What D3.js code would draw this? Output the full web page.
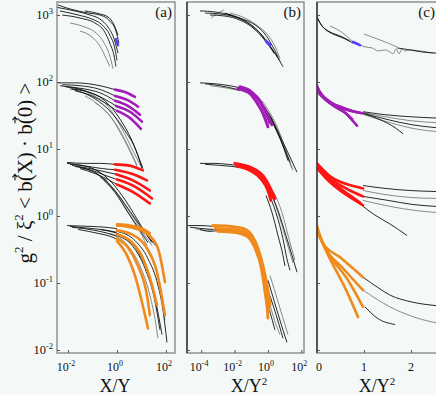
<!DOCTYPE html>
<html>
<head>
<meta charset="utf-8">
<script src="https://cdn.jsdelivr.net/npm/d3@7"></script>
<style>
  html, body { margin: 0; padding: 0; background: #f4f9f7; }
  svg { display: block; }
  text { font-family: "Liberation Serif", "Times New Roman", serif; fill: #111; }
</style>
</head>
<body>
<svg width="436" height="395"></svg>
<script>
// ---- tick values / labels ----
const yTickVals = [0.01, 0.1, 1, 10, 100, 1000];
const yTickExps = ["-2", "-1", "0", "1", "2", "3"];
const aTickVals = [0.01, 1, 100];
const aTickExps = ["-2", "0", "2"];
const bTickVals = [1e-4, 1e-2, 1, 100];
const bTickExps = ["-4", "-2", "0", "2"];
const cTickVals = [0, 1, 2];
const cTickLabels = ["0", "1", "2"];

// ---- panel (a): x = X/Y ----
const a1Black = [
  [[0.0035,1300],[0.019,1150],[0.079,1000],[0.2,870],[0.43,660],[0.76,440],[1.1,270]],
  [[0.0047,1150],[0.026,1000],[0.095,870],[0.25,710],[0.51,500],[0.83,310],[1.0,210]],
  [[0.0058,1000],[0.031,900],[0.126,760],[0.3,575],[0.51,380],[0.76,245],[0.91,170]],
  [[0.0039,1410],[0.012,1230],[0.066,1070],[0.2,1000],[0.51,810],[0.91,575],[1.2,380]],
  [[0.049,1150],[0.2,1035],[0.43,935],[0.76,710],[1.1,500]]
];
const a1Gray = [
  [[0.012,760],[0.049,660],[0.14,540],[0.3,380],[0.51,245],[0.69,158]],
  [[0.031,575],[0.095,470],[0.2,345],[0.36,225],[0.51,170]]
];
const a1Blue = [[[0.91,436],[1.1,355]]];

const a2Black = [
  [[0.0039,97],[0.019,97],[0.126,91],[0.83,77]],
  [[0.0058,91],[0.031,88],[0.17,79],[0.83,62]],
  [[0.0083,85],[0.045,79],[0.2,69],[0.83,52.5]],
  [[0.012,79],[0.066,71],[0.25,58],[0.91,44]],
  [[0.019,74],[0.095,62],[0.32,49],[1.0,37]],
  [[0.0047,88],[0.049,74],[0.32,52.5],[1.32,28],[4.1,13.3],[8.7,6.7],[11.5,5.1]],
  [[0.0145,79],[0.126,56],[0.51,37],[2.1,18.8],[6.0,9.5],[10.5,5.1]]
];
const a2Gray = [
  [[0.049,62],[0.2,44],[0.83,24.7],[2.8,11.2],[6.6,5.7]],
  [[0.126,49],[0.51,31.4],[1.6,15.8],[4.1,8.0],[7.2,5.1]],
  [[0.0076,85],[0.079,67],[0.43,43],[1.6,20],[4.9,8.8],[9.5,5.5]]
];
const a2Purple = [
  [[0.83,77],[2.1,71],[5.4,60]],
  [[0.83,62],[2.6,54],[7.2,43]],
  [[0.83,52.5],[2.8,44],[8.7,32.5]],
  [[0.91,44],[3.4,36],[10.5,25.6]],
  [[1.0,37],[3.4,29],[9.5,20]]
];

const a3Black = [
  [[0.0091,6.3],[0.049,6.1],[0.2,6.1],[0.83,5.9]],
  [[0.012,5.9],[0.066,5.5],[0.25,5.1],[0.83,4.9]],
  [[0.0145,5.7],[0.079,5.1],[0.3,4.6],[0.91,4.2]],
  [[0.019,5.5],[0.095,4.8],[0.36,4.0],[1.0,3.5]],
  [[0.031,5.1],[0.126,4.3],[0.43,3.5],[1.0,2.95]],
  [[0.0091,6.1],[0.079,5.3],[0.43,3.6],[1.6,2.03],[5.4,1.02],[13.9,0.57],[27,0.4]],
  [[0.031,5.3],[0.2,4.0],[0.83,2.4],[2.8,1.3],[8.7,0.72],[22,0.46],[39,0.36]],
  [[0.2,3.9],[0.83,2.24],[2.8,1.13],[8.7,0.61],[18.5,0.4]]
];
const a3Gray = [
  [[0.126,4.5],[0.51,2.85],[1.6,1.71],[4.9,0.92],[13.9,0.51],[27,0.36]],
  [[0.32,3.6],[1.1,2.03],[3.4,1.02],[10.5,0.51],[16.7,0.36]]
];
const a3Red = [
  [[0.83,5.9],[2.8,5.7],[11.5,4.8]],
  [[0.83,4.9],[3.7,4.3],[16.7,3.4]],
  [[0.91,4.2],[4.5,3.4],[22,2.4]],
  [[1.0,3.5],[5.4,2.75],[27,1.83]],
  [[1.0,2.95],[4.9,2.24],[22,1.54]]
];

const a4Black = [
  [[0.0091,0.72],[0.079,0.7],[0.32,0.68],[1.0,0.65]],
  [[0.012,0.7],[0.095,0.65],[0.39,0.61],[1.0,0.57]],
  [[0.0145,0.68],[0.126,0.61],[0.43,0.55],[1.0,0.5]],
  [[0.026,0.63],[0.17,0.55],[0.51,0.5],[1.0,0.45]],
  [[1.0,0.59],[5.4,0.43],[18.5,0.23],[47,0.093],[76,0.039],[110,0.013]],
  [[1.0,0.51],[4.5,0.35],[13.9,0.166],[35,0.055],[57,0.02]],
  [[0.2,0.63],[2.1,0.48],[8.7,0.26],[27,0.093],[52,0.03],[69,0.017]]
];
const a4Gray = [
  [[0.51,0.55],[2.8,0.36],[8.7,0.18],[22,0.066],[39,0.024],[47,0.015]],
  [[1.32,0.61],[7.2,0.46],[22,0.26],[57,0.093],[91,0.028]]
];
const a4Orange = [
  [[1.0,0.72],[5.4,0.65],[18.5,0.53],[47,0.33],[91,0.103]],
  [[1.0,0.61],[4.1,0.53],[15.2,0.35],[43,0.145],[91,0.033]],
  [[1.0,0.53],[3.4,0.43],[10.5,0.25],[27,0.093],[43,0.047]],
  [[1.0,0.46],[2.8,0.34],[7.2,0.18],[16.7,0.066],[22,0.033]],
  [[1.0,0.42],[2.3,0.28],[5.4,0.13],[12.6,0.039],[18.5,0.021]],
  [[1.0,0.75],[3.4,0.72],[10.5,0.65],[22,0.55]]
];

// ---- panel (b): x = X/Y^2, log ----
const b1Black = [
  [[8.5e-5,1150],[6.7e-4,1110],[5.3e-3,1000],[0.042,810],[0.25,575],[1,380],[3.0,254],[7.9,170]],
  [[1.7e-4,1070],[1.3e-3,1035],[0.0105,935],[0.083,735],[0.44,500],[1.74,310],[5.2,210]],
  [[3.4e-4,1000],[2.7e-3,965],[0.021,840],[0.11,660],[0.58,436],[2.3,270]],
  [[2.7e-3,1070],[0.021,900],[0.17,710],[0.66,520],[1.74,355],[4.0,237]]
];
const b1Gray = [
  [[3.9e-4,900],[1.0e-3,1070],[2.3e-3,1190]],
  [[5.3e-3,1070],[0.042,900],[0.25,685],[1,500],[2.6,345],[5.2,225]]
];
const b1Blue = [[[0.76,410],[1.32,355]]];

const b2Black = [
  [[8.5e-5,97],[6.7e-4,94],[5.3e-3,88],[0.021,82]],
  [[1.7e-4,94],[1.3e-3,88],[0.0105,79],[0.028,74]],
  [[0.58,44],[1.74,28],[5.2,15.8],[15.8,8.8],[55,4.5]],
  [[0.76,37],[2.3,22.3],[6.9,12.4],[21,6.3]],
  [[1.32,31.4],[3.5,18.8],[9.1,10.1],[15.8,6.7]]
];
const b2Gray = [
  [[3.4e-4,88],[2.7e-3,82],[0.021,74]],
  [[1,34.8],[3.0,20],[7.9,11.2],[27.5,5.1]],
  [[0.44,52.5],[1.32,34.8],[4.0,20],[12,9.5],[31.5,4.8]]
];
const b2Purple = [
  [[0.021,85],[0.083,74],[0.25,56],[0.58,40],[1.32,24.7]],
  [[0.016,79],[0.083,67],[0.22,49],[0.5,34],[1,21.5]],
  [[0.028,79],[0.11,69],[0.33,52.5],[0.76,34.8],[1.74,23]]
];

const b3Black = [
  [[8.5e-5,6.1],[6.7e-4,6.1],[0.004,5.9],[0.014,5.7]],
  [[1.7e-4,5.9],[1.3e-3,5.7],[0.0069,5.5],[0.021,5.3]],
  [[1.32,2.4],[4.0,1.21],[12,0.51],[27.5,0.26],[55,0.145]],
  [[1,2.24],[3.0,1.13],[7.9,0.46],[13.7,0.23],[21,0.155]],
  [[0.76,2.03],[1.74,1.13],[4.0,0.51],[7.9,0.26],[10.4,0.18]]
];
const b3Gray = [
  [[1.74,2.03],[5.2,0.92],[13.7,0.4],[31.5,0.2]],
  [[2.3,2.24],[6.9,1.13],[18,0.46],[41,0.22]]
];
const b3Red = [
  [[0.0105,6.1],[0.063,5.5],[0.33,4.3],[1,2.85],[2.0,1.89]],
  [[0.014,5.5],[0.083,4.8],[0.38,3.6],[1,2.4],[1.51,1.71]],
  [[0.021,5.7],[0.11,5.1],[0.5,4.0],[1.32,2.67],[2.6,1.83]]
];

const b4Black = [
  [[1.6e-5,0.72],[8.5e-5,0.72],[5.1e-4,0.7]],
  [[2.1e-5,0.68],[1.1e-4,0.65],[5.1e-4,0.63]],
  [[8.5e-5,0.63],[3.4e-4,0.59],[1.0e-3,0.61]],
  [[1,0.11],[2.3,0.055],[5.2,0.028],[13.7,0.013]],
  [[1,0.078],[2.0,0.047],[4.6,0.024],[7.9,0.015]],
  [[0.87,0.055],[1.51,0.033],[2.6,0.02]]
];
const b4Gray = [
  [[4.3e-5,0.65],[1.7e-4,0.61],[6.7e-4,0.63]],
  [[0.76,0.078],[1.51,0.042],[3.0,0.024],[5.2,0.017]],
  [[1.32,0.13],[3.5,0.059],[7.9,0.03],[15.8,0.017]]
];
const b4Orange = [
  [[5.1e-4,0.72],[5.3e-3,0.7],[0.032,0.65],[0.11,0.51],[0.25,0.33],[0.5,0.18],[0.87,0.093],[1.32,0.047]],
  [[6.7e-4,0.65],[6.9e-3,0.63],[0.042,0.57],[0.145,0.4],[0.33,0.23],[0.58,0.118],[0.87,0.055],[1,0.03]],
  [[1.0e-3,0.59],[9.2e-3,0.57],[0.055,0.5],[0.17,0.33],[0.38,0.18],[0.66,0.078],[1,0.037]],
  [[1.3e-3,0.63],[0.016,0.61],[0.083,0.5],[0.22,0.31],[0.5,0.155],[0.76,0.066],[1.15,0.039]]
];

// ---- panel (c): x = X/Y^2, linear ----
const c1Black = [
  [[0,965],[0.064,760],[0.17,620],[0.34,520],[0.553,455],[0.766,380]],
  [[0.02,870],[0.106,685],[0.277,558],[0.49,487],[0.7,410]],
  [[1.7,323],[1.98,301],[2.23,281],[2.53,270]]
];
const c1Gray = [
  [[0.85,380],[1.02,334],[1.17,323],[1.3,291],[1.45,301],[1.55,281],[1.62,263],[1.68,312],[1.745,263],[1.81,312],[1.87,291],[1.98,301],[2.19,291],[2.47,270]],
  [[0.277,685],[0.49,575],[0.745,410]],
  [[1.0,520],[1.34,425],[1.7,334]]
];
const c1Blue = [[[0.766,396],[0.915,355]]];

const c2Black = [
  [[0,69],[0.17,54],[0.383,45.8],[0.7,38.5],[0.979,34],[1.34,27.4],[1.66,20.8],[1.83,16.9]],
  [[0.979,36],[1.447,32.5],[1.98,30.3],[2.53,29]],
  [[1.0,34],[1.51,27.4],[2.02,23],[2.53,20.8]]
];
const c2Gray = [
  [[0.979,34.8],[1.447,30.3],[1.98,26.5],[2.53,24.7]],
  [[1.0,32.5],[1.553,24.7],[2.085,20],[2.53,18.2]]
];
const c2Purple = [
  [[0,88],[0.064,69],[0.213,52.5],[0.49,43],[0.745,37],[0.979,34]],
  [[0.02,79],[0.128,60],[0.32,45.8],[0.596,34.8],[0.85,22.3]],
  [[0.02,74],[0.17,56],[0.383,43],[0.617,34],[0.745,28]],
  [[0,82],[0.106,64.5],[0.277,50.7],[0.553,40],[0.915,34.8]]
];

const c3Black = [
  [[0.979,2.85],[1.447,2.58],[1.98,2.4],[2.53,2.32]],
  [[0.979,1.96],[1.51,1.71],[2.02,1.49],[2.53,1.39]],
  [[0.979,1.39],[1.234,1.03],[1.553,0.76],[1.915,0.51]]
];
const c3Gray = [
  [[0.979,2.4],[1.447,2.09],[1.98,1.89],[2.53,1.83]],
  [[0.979,1.71],[1.553,1.39],[2.085,1.21],[2.53,1.13]]
];
const c3Red = [
  [[0,6.1],[0.106,5.1],[0.277,3.9],[0.532,3.16],[0.81,2.75],[0.979,2.58]],
  [[0.02,5.5],[0.17,4.2],[0.404,3.16],[0.7,2.4],[0.979,1.96]],
  [[0.02,5.1],[0.19,3.75],[0.447,2.75],[0.7,2.03],[0.915,1.59]],
  [[0.043,4.8],[0.234,3.4],[0.49,2.4],[0.81,1.71],[0.979,1.44]]
];

const c4Black = [
  [[0.979,0.122],[1.3,0.085],[1.553,0.066],[2.02,0.052],[2.53,0.046]],
  [[1.02,0.044],[1.277,0.03],[1.66,0.024]]
];
const c4Gray = [
  [[0.979,0.078],[1.553,0.044],[2.47,0.026],[2.53,0.0255]]
];
const c4Orange = [
  [[0,0.72],[0.128,0.39],[0.49,0.242],[0.979,0.122]],
  [[0,0.66],[0.15,0.36],[0.553,0.166],[0.979,0.078]],
  [[0.01,0.6],[0.2,0.31],[0.66,0.11],[0.979,0.044]],
  [[0.02,0.55],[0.25,0.25],[0.64,0.073],[0.872,0.031]]
];

// ---- drawing ----
(function() {
  const svg = d3.select("svg");
  const top = 2, bottom = 353;

  const y = d3.scaleLog().domain([0.00902, 1563]).range([bottom, top]);

  const BLUE = "#5b3df5", PURPLE = "#a21cb8", RED = "#ff1414", ORANGE = "#f08a1c";

  const panels = [
    {
      id: "a", label: "(a)", labelX: 172,
      x: d3.scaleLog().domain([0.00355, 234]).range([57, 175]),
      tickVals: aTickVals, tickExps: aTickExps,
      title: ["X/Y", null], titleX: 115,
      groups: [
        [a1Gray, a1Black, a1Blue, BLUE],
        [a2Gray, a2Black, a2Purple, PURPLE],
        [a3Gray, a3Black, a3Red, RED],
        [a4Gray, a4Black, a4Orange, ORANGE]
      ],
      colorWidth: 2.6
    },
    {
      id: "b", label: "(b)", labelX: 301,
      x: d3.scaleLog().domain([1.41e-5, 144.5]).range([187, 304]),
      tickVals: bTickVals, tickExps: bTickExps,
      title: ["X/Y", "2"], titleX: 249,
      groups: [
        [b1Gray, b1Black, b1Blue, BLUE],
        [b2Gray, b2Black, b2Purple, PURPLE],
        [b3Gray, b3Black, b3Red, RED],
        [b4Gray, b4Black, b4Orange, ORANGE]
      ],
      colorWidth: 3
    },
    {
      id: "c", label: "(c)", labelX: 435,
      x: d3.scaleLinear().domain([0, 2.53]).range([317, 436]),
      tickVals: cTickVals, tickLabels: cTickLabels,
      title: ["X/Y", "2"], titleX: 377,
      groups: [
        [c1Gray, c1Black, c1Blue, BLUE],
        [c2Gray, c2Black, c2Purple, PURPLE],
        [c3Gray, c3Black, c3Red, RED],
        [c4Gray, c4Black, c4Orange, ORANGE]
      ],
      colorWidth: 2.6
    }
  ];

  const defs = svg.append("defs");

  panels.forEach(function(p) {
    const x = p.x;
    const x0 = x.range()[0], x1 = x.range()[1];

    defs.append("clipPath").attr("id", "clip-" + p.id)
      .append("rect")
        .attr("x", x0).attr("y", top)
        .attr("width", x1 - x0).attr("height", bottom - top);

    const g = svg.append("g");
    const plot = g.append("g").attr("clip-path", "url(#clip-" + p.id + ")");

    const line = d3.line()
      .x(function(d) { return x(d[0]); })
      .y(function(d) { return y(d[1]); })
      .curve(d3.curveMonotoneX);

    p.groups.forEach(function(grp) {
      plot.selectAll(null).data(grp[0]).enter().append("path")
        .attr("d", line).attr("fill", "none")
        .attr("stroke", "#7c7c7c").attr("stroke-width", 0.9);
      plot.selectAll(null).data(grp[1]).enter().append("path")
        .attr("d", line).attr("fill", "none")
        .attr("stroke", "#111").attr("stroke-width", 0.9);
      plot.selectAll(null).data(grp[2]).enter().append("path")
        .attr("d", line).attr("fill", "none")
        .attr("stroke", grp[3]).attr("stroke-width", p.colorWidth)
        .attr("stroke-linecap", "round");
    });

    // frame
    g.append("rect")
      .attr("x", x0).attr("y", top)
      .attr("width", (p.id === "c" ? 30 + x1 : x1) - x0).attr("height", bottom - top)
      .attr("fill", "none").attr("stroke", "#8a8a8a").attr("stroke-width", 1.4);
    if (p.id !== "a") {
      g.append("line")
        .attr("x1", x0).attr("x2", x0).attr("y1", top).attr("y2", bottom)
        .attr("stroke", "#111").attr("stroke-width", 1.1);
    }

    // inward ticks
    g.append("g")
      .attr("transform", "translate(0," + bottom + ")")
      .attr("color", "#555")
      .call(d3.axisBottom(x).tickValues(p.tickVals).tickSize(-3).tickFormat(""))
      .call(function(s) { s.select(".domain").remove(); });
    g.append("g")
      .attr("transform", "translate(" + x0 + ",0)")
      .attr("color", "#555")
      .call(d3.axisLeft(y).tickValues(yTickVals).tickSize(-3).tickFormat(""))
      .call(function(s) { s.select(".domain").remove(); });

    // tick labels
    p.tickVals.forEach(function(v, i) {
      const t = g.append("text")
        .attr("y", 371)
        .attr("font-size", 12);
      if (p.tickExps) {
        t.attr("x", x(v) - 2).attr("text-anchor", "middle");
        t.append("tspan").text("10");
        t.append("tspan").attr("font-size", 8).attr("dy", -5).text(p.tickExps[i]);
      } else {
        t.attr("x", x(v) + (v === 0 ? 2 : 0)).attr("text-anchor", "middle").text(p.tickLabels[i]);
      }
    });

    // axis title
    const tt = g.append("text")
      .attr("x", p.titleX).attr("y", 392)
      .attr("text-anchor", "middle").attr("font-size", 18);
    tt.append("tspan").text(p.title[0]);
    if (p.title[1]) tt.append("tspan").attr("font-size", 11).attr("dy", -7).text(p.title[1]);

    // panel label
    g.append("text")
      .attr("x", p.labelX).attr("y", 17)
      .attr("text-anchor", "end").attr("font-size", 15)
      .text(p.label);
  });

  // y tick labels
  yTickVals.forEach(function(v, i) {
    const t = svg.append("text")
      .attr("x", 53).attr("y", y(v) + 4)
      .attr("text-anchor", "end").attr("font-size", 12.5);
    t.append("tspan").text("10");
    t.append("tspan").attr("font-size", 8.5).attr("dy", -5).text(yTickExps[i]);
  });

  // y axis title (rotated)
  const yl = svg.append("g").attr("transform", "translate(32,173) rotate(-90)");
  const yt = yl.append("text").attr("text-anchor", "middle").attr("font-size", 21);
  yt.append("tspan").text("g");
  yt.append("tspan").attr("font-size", 13).attr("dy", -9).text("2");
  yt.append("tspan").attr("dy", 9).text(" / \u03be");
  yt.append("tspan").attr("font-size", 13).attr("dy", -9).text("2");
  yt.append("tspan").attr("dy", 9).text("  < b(X) \u00b7 b(0) >");

  // vector arrows over the b's
  const node = yt.node();
  const full = node.textContent;
  for (let i = 0; i < full.length; i++) {
    if (full[i] !== "b") continue;
    const s = node.getStartPositionOfChar(i).x;
    const e = node.getEndPositionOfChar(i).x;
    const ay = -17;
    yl.append("path")
      .attr("d", "M" + (s + 1) + "," + ay + "H" + e + "M" + (e - 3) + "," + (ay - 2.5) + "L" + e + "," + ay + "L" + (e - 3) + "," + (ay + 2.5))
      .attr("fill", "none").attr("stroke", "#111").attr("stroke-width", 1.1);
  }
})();
</script>
</body>
</html>
